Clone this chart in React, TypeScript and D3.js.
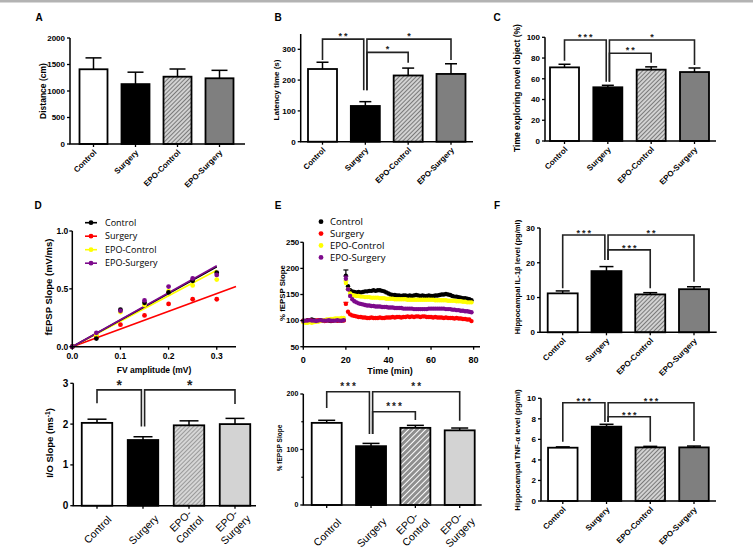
import * as d3 from 'd3';
import type { ReactNode } from 'react';

const FONT = "'Liberation Sans', Arial, Helvetica, sans-serif";
const LEGEND_FONT = "'Open Sans', 'Liberation Sans', sans-serif";

const groups = ['Control', 'Surgery', 'EPO-Control', 'EPO-Surgery'];
const groupLines = [['Control'], ['Surgery'], ['EPO-', 'Control'], ['EPO-', 'Surgery']];
const seriesColors = ['#000000', '#ff0000', '#ffff00', '#7d0a8c'];

// A - open field distance
const distanceMean = [1410, 1130, 1270, 1240];
const distanceSem = [215, 225, 145, 150];

// B - latency
const latencyMean = [236, 116, 215, 220];
const latencySem = [22, 14, 24, 33];

// C - novel object
const novelMean = [71, 51.8, 68.8, 66.5];
const novelSem = [3, 1.9, 2.7, 3.9];

// D - input/output curves
const fvAmp = [0, 0.05, 0.1, 0.15, 0.2, 0.25, 0.3];
const ioControl = [0, 0.07, 0.32, 0.38, 0.47, 0.57, 0.64];
const ioSurgery = [0, 0.09, 0.19, 0.27, 0.37, 0.41, 0.41];
const ioEpoControl = [0, 0.1, 0.3, 0.36, 0.48, 0.53, 0.58];
const ioEpoSurgery = [0, 0.12, 0.31, 0.4, 0.52, 0.59, 0.62];
const ioFitSlope = [2.3, 1.53, 2.2, 2.33];
const ioFitEnd = [0.3, 0.34, 0.3, 0.3];
const ioSlopeMean = [2.03, 1.61, 1.97, 2.0];
const ioSlopeSem = [0.09, 0.08, 0.11, 0.14];

// E - LTP time course (one point per minute)
const timeMin = [
  0, 1, 2, 3, 4, 5, 6, 7, 8, 9, 10, 11, 12, 13, 14, 15, 16, 17, 18, 19,
  20, 21, 22, 23, 24, 25, 26, 27, 28, 29, 30, 31, 32, 33, 34, 35, 36, 37, 38, 39,
  40, 41, 42, 43, 44, 45, 46, 47, 48, 49, 50, 51, 52, 53, 54, 55, 56, 57, 58, 59,
  60, 61, 62, 63, 64, 65, 66, 67, 68, 69, 70, 71, 72, 73, 74, 75, 76, 77, 78, 79,
];
const ltpControl = [
  100, 99, 101, 100, 102, 101, 100, 99, 101, 100, 100, 101, 100, 99, 100, 101, 100, 101, 100, 101,
  186, 166, 158, 156, 155, 154, 155, 154, 155, 156, 156, 157, 157, 158, 157, 158, 158, 157, 156, 154,
  152, 150, 149, 149, 148, 148, 147, 148, 148, 147, 148, 147, 148, 149, 148, 147, 148, 147, 147, 148,
  147, 147, 148, 148, 149, 150, 150, 151, 150, 149, 147, 146, 146, 145, 144, 143, 143, 142, 141, 139,
];
const ltpSurgery = [
  100, 99, 100, 101, 100, 99, 100, 101, 100, 100, 99, 100, 101, 100, 100, 101, 100, 100, 101, 100,
  132, 117, 112, 110, 109, 108, 107, 107, 106, 106, 105, 105, 106, 105, 105, 105, 106, 105, 105, 106,
  106, 106, 107, 106, 107, 107, 106, 107, 107, 108, 107, 108, 107, 108, 108, 107, 108, 108, 107, 107,
  107, 106, 107, 106, 106, 106, 105, 106, 105, 105, 105, 104, 105, 104, 104, 103, 103, 102, 102, 99,
];
const ltpEpoControl = [
  97, 96, 96, 97, 96, 97, 98, 98, 99, 100, 101, 102, 102, 103, 103, 104, 104, 104, 105, 105,
  172, 160, 152, 149, 148, 147, 147, 146, 146, 145, 145, 145, 144, 144, 144, 144, 143, 143, 143, 142,
  142, 142, 142, 141, 141, 141, 141, 141, 141, 140, 140, 140, 140, 140, 140, 140, 140, 140, 140, 140,
  140, 140, 139, 139, 139, 139, 139, 139, 138, 138, 138, 138, 137, 137, 137, 136, 136, 135, 135, 135,
];
const ltpEpoSurgery = [
  99, 100, 100, 101, 100, 100, 99, 100, 101, 100, 100, 100, 101, 100, 100, 100, 101, 100, 100, 101,
  180, 160, 147, 141, 137, 135, 133, 132, 131, 130, 129, 129, 128, 128, 127, 127, 127, 126, 126, 126,
  125, 125, 125, 124, 124, 124, 124, 123, 123, 123, 123, 123, 122, 122, 122, 122, 122, 122, 122, 123,
  123, 123, 123, 123, 123, 123, 123, 122, 122, 122, 121, 121, 120, 120, 119, 119, 118, 118, 117, 116,
];
const ltpPeakSem = [11, 3, 4, 5];
const ltpMean = [148, 106, 139, 134.5];
const ltpSem = [4.6, 5, 4.5, 4.2];

// F - cytokines
const il1Mean = [11.2, 17.6, 10.9, 12.4];
const il1Sem = [0.7, 1.3, 0.5, 0.7];
const tnfMean = [5.19, 7.24, 5.22, 5.22];
const tnfSem = [0.08, 0.23, 0.1, 0.13];

type Bracket = { a: number; b: number; label: string; level: number; dropA: number; dropB: number };

const latencyBrackets: Bracket[] = [
  { a: 0, b: 1, label: '**', level: 333, dropA: 265, dropB: 167 },
  { a: 1, b: 3, label: '*', level: 333, dropA: 167, dropB: 265 },
  { a: 1, b: 2, label: '*', level: 290, dropA: 167, dropB: 256 },
];
const novelBrackets: Bracket[] = [
  { a: 0, b: 1, label: '***', level: 97.4, dropA: 77.4, dropB: 57.2 },
  { a: 1, b: 3, label: '*', level: 97.4, dropA: 57.2, dropB: 73.3 },
  { a: 1, b: 2, label: '**', level: 84.6, dropA: 57.2, dropB: 75.5 },
];
const ioBrackets: Bracket[] = [
  { a: 0, b: 1, label: '*', level: 2.84, dropA: 2.51, dropB: 1.94 },
  { a: 1, b: 3, label: '*', level: 2.84, dropA: 1.94, dropB: 2.49 },
];
const ltpBrackets: Bracket[] = [
  { a: 0, b: 1, label: '***', level: 204, dropA: 175, dropB: 128 },
  { a: 1, b: 3, label: '**', level: 204, dropA: 128, dropB: 152 },
  { a: 1, b: 2, label: '***', level: 168, dropA: 128, dropB: 153 },
];
const il1Brackets: Bracket[] = [
  { a: 0, b: 1, label: '***', level: 28, dropA: 12.65, dropB: 20.8 },
  { a: 1, b: 3, label: '**', level: 28, dropA: 20.8, dropB: 14.55 },
  { a: 1, b: 2, label: '***', level: 23.7, dropA: 20.8, dropB: 12.65 },
];
const tnfBrackets: Bracket[] = [
  { a: 0, b: 1, label: '***', level: 9.57, dropA: 5.77, dropB: 7.7 },
  { a: 1, b: 3, label: '***', level: 9.57, dropA: 7.7, dropB: 5.84 },
  { a: 1, b: 2, label: '***', level: 8.21, dropA: 7.7, dropB: 5.77 },
];

interface BarLayout {
  ax: number; axEnd: number; y0: number; yTop: number; yMax: number;
  ticks: number[]; minor?: number[];
  c0: number; c1: number; bw: number; cap: number;
  tickFs: number; labelFs: number; ylx: number; yly: number;
  xStyle: 'end' | 'center'; xFs: number; xDy: number;
  starFs: number; starDy: number; starLs: number;
}

const layoutA: BarLayout = { ax: 70, axEnd: 245, y0: 144, yTop: 38, yMax: 2000, ticks: [0, 500, 1000, 1500, 2000], c0: 93.5, c1: 219.5, bw: 28, cap: 16, tickFs: 8, labelFs: 8.5, ylx: 43, yly: 91, xStyle: 'end', xFs: 8, xDy: 9, starFs: 9, starDy: 0, starLs: 2 };
const layoutB: BarLayout = { ax: 300.7, axEnd: 473, y0: 141.7, yTop: 33.9, yMax: 350, ticks: [0, 100, 200, 300], c0: 322.5, c1: 451, bw: 29, cap: 12, tickFs: 8, labelFs: 8, ylx: 276, yly: 90, xStyle: 'end', xFs: 7.8, xDy: 9, starFs: 9, starDy: 0, starLs: 2 };
const layoutC: BarLayout = { ax: 545, axEnd: 716, y0: 141, yTop: 37.3, yMax: 100, ticks: [0, 20, 40, 60, 80, 100], c0: 564.5, c1: 694.5, bw: 29, cap: 12, tickFs: 8, labelFs: 8.5, ylx: 517.5, yly: 88, xStyle: 'end', xFs: 8, xDy: 9, starFs: 9, starDy: 0, starLs: 2 };
const layoutIO: BarLayout = { ax: 73.3, axEnd: 256, y0: 505.7, yTop: 383.3, yMax: 3, ticks: [0, 1, 2, 3], c0: 97, c1: 235, bw: 30.5, cap: 19, tickFs: 10, labelFs: 9.5, ylx: 50, yly: 443, xStyle: 'center', xFs: 10.5, xDy: 24, starFs: 14, starDy: 0, starLs: 0 };
const layoutLTP: BarLayout = { ax: 303.3, axEnd: 481.7, y0: 505, yTop: 394, yMax: 200, ticks: [0, 100, 200], minor: [50, 150], c0: 326.7, c1: 459.7, bw: 30, cap: 17, tickFs: 7, labelFs: 6.5, ylx: 280, yly: 448, xStyle: 'center', xFs: 10.5, xDy: 27.5, starFs: 10, starDy: -1.5, starLs: 2 };
const layoutIL1: BarLayout = { ax: 540, axEnd: 716.7, y0: 332.3, yTop: 228, yMax: 30, ticks: [0, 10, 20, 30], c0: 562.7, c1: 694, bw: 30, cap: 14, tickFs: 8, labelFs: 7.6, ylx: 517.5, yly: 277, xStyle: 'end', xFs: 8, xDy: 9, starFs: 9, starDy: 1.5, starLs: 2 };
const layoutTNF: BarLayout = { ax: 541, axEnd: 716, y0: 501, yTop: 398.3, yMax: 10, ticks: [0, 2, 4, 6, 8, 10], c0: 562.8, c1: 694, bw: 29.5, cap: 14, tickFs: 8, labelFs: 7.8, ylx: 517.5, yly: 450, xStyle: 'end', xFs: 8, xDy: 9, starFs: 9, starDy: 1, starLs: 2 };

const fillsDark = ['#ffffff', '#000000', 'url(#hatchGray)', '#7f7f7f'];
const fillsIO = ['#ffffff', '#000000', 'url(#hatchLight)', '#d3d3d3'];
const fillsLTP = ['#ffffff', '#000000', 'url(#hatchWhite)', '#d3d3d3'];

function BarPanel({ L, mean, sem, fills, brackets = [], yLabel }: {
  L: BarLayout; mean: number[]; sem: number[]; fills: string[]; brackets?: Bracket[]; yLabel: ReactNode;
}) {
  const y = d3.scaleLinear().domain([0, L.yMax]).range([L.y0, L.yTop]);
  const x = d3.scalePoint<string>().domain(groups).range([L.c0, L.c1]);
  const cx = (i: number) => x(groups[i]) as number;

  return (
    <g>
      {/* bars + error bars */}
      {mean.map((m, i) => {
        const top = y(m);
        const err = y(m + sem[i]);
        return (
          <g key={i}>
            <line x1={cx(i)} x2={cx(i)} y1={top} y2={err} stroke="#000" strokeWidth={1.5} />
            <line x1={cx(i) - L.cap / 2} x2={cx(i) + L.cap / 2} y1={err} y2={err} stroke="#000" strokeWidth={1.5} />
            <rect x={cx(i) - L.bw / 2} y={top} width={L.bw} height={L.y0 - top}
              fill={fills[i]} stroke="#000" strokeWidth={1.8} />
          </g>
        );
      })}

      {/* axes */}
      <path d={`M${L.ax},${L.yTop}V${L.y0}H${L.axEnd}`} fill="none" stroke="#000" strokeWidth={1.5} />
      {L.ticks.map((t) => (
        <g key={t}>
          <line x1={L.ax - 3} x2={L.ax} y1={y(t)} y2={y(t)} stroke="#000" strokeWidth={1.3} />
          <text x={L.ax - 5} y={y(t)} dy="0.35em" textAnchor="end" fontSize={L.tickFs} fontWeight="bold">{t}</text>
        </g>
      ))}
      {(L.minor || []).map((t) => (
        <line key={t} x1={L.ax - 2} x2={L.ax} y1={y(t)} y2={y(t)} stroke="#000" strokeWidth={1.2} />
      ))}
      {groups.map((g, i) => (
        <line key={g} x1={cx(i)} x2={cx(i)} y1={L.y0} y2={L.y0 + 3} stroke="#000" strokeWidth={1.3} />
      ))}

      {/* significance brackets */}
      {brackets.map((b, k) => {
        const xa = cx(b.a) + (b.a === 1 ? 1.6 : 0);
        const xb = cx(b.b) - (b.b === 1 ? 1.6 : 0);
        const yl = y(b.level);
        return (
          <g key={k}>
            <path d={`M${xa},${y(b.dropA)}V${yl}H${xb}V${y(b.dropB)}`} fill="none" stroke="#222" strokeWidth={1.6} />
            <text x={(xa + xb) / 2 + L.starLs / 2} y={yl + L.starDy} textAnchor="middle"
              fontSize={L.starFs} fontWeight="bold" letterSpacing={L.starLs} fill="#222">{b.label}</text>
          </g>
        );
      })}

      {/* y label */}
      <text transform={`translate(${L.ylx},${L.yly}) rotate(-90)`} textAnchor="middle" dy="0.35em"
        fontSize={L.labelFs} fontWeight="bold">{yLabel}</text>

      {/* x labels */}
      {groups.map((g, i) => {
        if (L.xStyle === 'end') {
          return (
            <text key={g} transform={`translate(${cx(i) + 3.5},${L.y0 + L.xDy}) rotate(-45)`}
              textAnchor="end" fontSize={L.xFs} fontWeight="bold">{g}</text>
          );
        }
        const lines = groupLines[i];
        const lh = L.xFs * 1.2;
        return (
          <g key={g} transform={`translate(${cx(i) + 0.5},${L.y0 + L.xDy}) rotate(-45)`}>
            {lines.map((t, j) => (
              <text key={j} y={(j - (lines.length - 1)) * lh} dy="0.35em" textAnchor="middle" fontSize={L.xFs}>{t}</text>
            ))}
          </g>
        );
      })}
    </g>
  );
}

function IOScatter() {
  const x = d3.scaleLinear().domain([0, 0.34]).range([72.3, 236]);
  const y = d3.scaleLinear().domain([0, 1]).range([346.7, 231]);
  const series = [ioControl, ioSurgery, ioEpoControl, ioEpoSurgery];
  const order = [1, 2, 0, 3];
  const fit = d3.line<[number, number]>().x((d) => x(d[0])).y((d) => y(d[1]));

  return (
    <g>
      {/* regression lines */}
      {order.map((s) => (
        <path key={'l' + s} d={fit([[0, 0], [ioFitEnd[s], ioFitSlope[s] * ioFitEnd[s]]]) || ''}
          fill="none" stroke={seriesColors[s]} strokeWidth={1.7} />
      ))}
      {order.map((s) => (
        <g key={'p' + s}>
          {fvAmp.map((a, i) => (
            <circle key={i} cx={x(a)} cy={y(series[s][i])} r={2.4} fill={seriesColors[s]} />
          ))}
        </g>
      ))}

      <path d={`M${x(0)},${y(1)}V${y(0)}H${x(0.34)}`} fill="none" stroke="#000" strokeWidth={1.5} />
      {[0, 0.5, 1].map((t) => (
        <g key={t}>
          <line x1={x(0) - 3} x2={x(0)} y1={y(t)} y2={y(t)} stroke="#000" strokeWidth={1.3} />
          <text x={x(0) - 4} y={y(t)} dy="0.35em" textAnchor="end" fontSize={8.5} fontWeight="bold">{d3.format('.1f')(t)}</text>
        </g>
      ))}
      {[0, 0.1, 0.2, 0.3].map((t) => (
        <g key={t}>
          <line x1={x(t)} x2={x(t)} y1={y(0)} y2={y(0) + 3} stroke="#000" strokeWidth={1.3} />
          <text x={x(t)} y={y(0) + 12} textAnchor="middle" fontSize={8.5} fontWeight="bold">{d3.format('.1f')(t)}</text>
        </g>
      ))}
      <text x={154} y={372.5} textAnchor="middle" fontSize={8.5} fontWeight="bold">FV amplitude (mV)</text>
      <text transform="translate(49,287) rotate(-90)" textAnchor="middle" dy="0.35em" fontSize={9.5} fontWeight="bold">fEPSP Slope (mV/ms)</text>

      {groups.map((g, i) => (
        <g key={g} transform={`translate(0,${222.7 + i * 13.5})`}>
          <line x1={85} x2={97} y1={0} y2={0} stroke={seriesColors[i]} strokeWidth={1.6} />
          <circle cx={91} cy={0} r={2.4} fill={seriesColors[i]} />
          <text x={105} y={0} dy="0.35em" fontSize={9} fontFamily={LEGEND_FONT}>{g}</text>
        </g>
      ))}
    </g>
  );
}

function LtpTimeCourse() {
  const x = d3.scaleLinear().domain([0, 83]).range([303.3, 480]);
  const y = d3.scaleLinear().domain([50, 250]).range([346.7, 242.3]);
  const series = [ltpControl, ltpSurgery, ltpEpoControl, ltpEpoSurgery];
  const peak = timeMin.indexOf(20);

  return (
    <g>
      {series.map((s, k) => (
        <g key={k}>
          <line x1={x(20)} x2={x(20)} y1={y(s[peak])} y2={y(s[peak] + ltpPeakSem[k])} stroke={seriesColors[k]} strokeWidth={1.2} />
          <line x1={x(20) - 2.5} x2={x(20) + 2.5} y1={y(s[peak] + ltpPeakSem[k])} y2={y(s[peak] + ltpPeakSem[k])} stroke={seriesColors[k]} strokeWidth={1.2} />
          {timeMin.map((t, i) => (
            <circle key={i} cx={x(t)} cy={y(s[i])} r={2.2} fill={seriesColors[k]} />
          ))}
        </g>
      ))}

      <path d={`M${x(0)},${y(250)}V${y(50)}H${x(83)}`} fill="none" stroke="#000" strokeWidth={1.5} />
      {[50, 100, 150, 200, 250].map((t) => (
        <g key={t}>
          <line x1={x(0) - 3} x2={x(0)} y1={y(t)} y2={y(t)} stroke="#000" strokeWidth={1.3} />
          <text x={x(0) - 4} y={y(t)} dy="0.35em" textAnchor="end" fontSize={8} fontWeight="bold">{t}</text>
        </g>
      ))}
      {[0, 20, 40, 60, 80].map((t) => (
        <g key={t}>
          <line x1={x(t)} x2={x(t)} y1={y(50)} y2={y(50) + 3} stroke="#000" strokeWidth={1.3} />
          <text x={x(t)} y={y(50) + 16} textAnchor="middle" fontSize={9} fontWeight="bold">{t}</text>
        </g>
      ))}
      <text x={390} y={374} textAnchor="middle" fontSize={9} fontWeight="bold">Time (min)</text>
      <text transform="translate(282,293) rotate(-90)" textAnchor="middle" dy="0.35em" fontSize={7.8} fontWeight="bold">% fEPSP Slope</text>

      {groups.map((g, i) => (
        <g key={g} transform={`translate(0,${221.7 + i * 11.9})`}>
          <circle cx={321} cy={0} r={2.4} fill={seriesColors[i]} />
          <text x={330} y={0} dy="0.35em" fontSize={9.5} fontFamily={LEGEND_FONT}>{g}</text>
        </g>
      ))}
    </g>
  );
}

export default function App() {
  const letters: [string, number, number][] = [
    ['A', 39, 21], ['B', 278, 20.5], ['C', 497, 21], ['D', 38, 209], ['E', 278, 209], ['F', 497, 209],
  ];
  return (
    <svg width={753} height={558} style={{ position: 'absolute', left: 0, top: 0 }} fontFamily={FONT}>
      <defs>
        <pattern id="hatchGray" width={3} height={3} patternUnits="userSpaceOnUse" patternTransform="rotate(45)">
          <rect width={3} height={3} fill="#d2d2d2" />
          <line x1={0.5} y1={0} x2={0.5} y2={3} stroke="#7a7a7a" strokeWidth={1} />
        </pattern>
        <pattern id="hatchLight" width={3} height={3} patternUnits="userSpaceOnUse" patternTransform="rotate(45)">
          <rect width={3} height={3} fill="#d6d6d6" />
          <line x1={0.5} y1={0} x2={0.5} y2={3} stroke="#9a9a9a" strokeWidth={1} />
        </pattern>
        <pattern id="hatchWhite" width={4} height={4} patternUnits="userSpaceOnUse" patternTransform="rotate(45)">
          <rect width={4} height={4} fill="#8f8f8f" />
          <line x1={0.5} y1={0} x2={0.5} y2={4} stroke="#ffffff" strokeWidth={1} />
        </pattern>
      </defs>
      <rect width={753} height={558} fill="#ffffff" />
      <rect width={753} height={2.5} fill="#b3b3b3" />

      {letters.map(([t, lx, ly]) => (
        <text key={t} x={lx} y={ly} textAnchor="middle" fontSize={10} fontWeight="bold">{t}</text>
      ))}

      <BarPanel L={layoutA} mean={distanceMean} sem={distanceSem} fills={fillsDark} yLabel="Distance (cm)" />
      <BarPanel L={layoutB} mean={latencyMean} sem={latencySem} fills={fillsDark} brackets={latencyBrackets} yLabel="Latency time (s)" />
      <BarPanel L={layoutC} mean={novelMean} sem={novelSem} fills={fillsDark} brackets={novelBrackets} yLabel="Time exploring novel object (%)" />

      <IOScatter />
      <BarPanel L={layoutIO} mean={ioSlopeMean} sem={ioSlopeSem} fills={fillsIO} brackets={ioBrackets}
        yLabel={<>I/O Slope (ms<tspan fontSize={6.5} dy={-3.5}>-1</tspan><tspan dy={3.5}>)</tspan></>} />

      <LtpTimeCourse />
      <BarPanel L={layoutLTP} mean={ltpMean} sem={ltpSem} fills={fillsLTP} brackets={ltpBrackets} yLabel="% fEPSP Slope" />

      <BarPanel L={layoutIL1} mean={il1Mean} sem={il1Sem} fills={fillsDark} brackets={il1Brackets} yLabel="Hippocampal IL-1β level (pg/ml)" />
      <BarPanel L={layoutTNF} mean={tnfMean} sem={tnfSem} fills={fillsDark} brackets={tnfBrackets} yLabel="Hippocampal TNF-α level (pg/ml)" />
    </svg>
  );
}
